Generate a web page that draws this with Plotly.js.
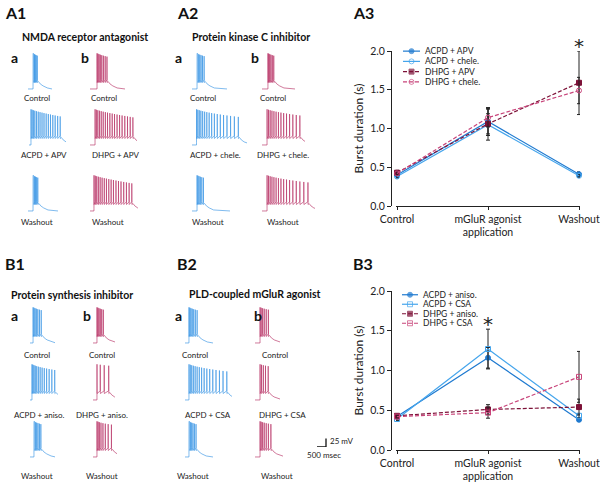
<!DOCTYPE html>
<html><head><meta charset="utf-8">
<script src="https://cdn.plot.ly/plotly-3.0.1.min.js"></script>
<style>html,body{margin:0;padding:0;background:#fff}#chart{width:600px;height:483px}</style>
</head><body><div id="chart"></div>
<script>
// ================= DATA =================
// Summary plots: burst duration (s), mean and error
const stages = ['Control', 'mGluR agonist<br>application', 'Washout'];
const stageIdx = [0, 1, 2];

const a3Names = ['ACPD + APV', 'ACPD + chele.', 'DHPG + APV', 'DHPG + chele.'];
const a3AcpdApv = [0.40, 1.09, 0.41];
const a3AcpdApvErr = [0.03, 0.18, 0.03];
const a3AcpdChele = [0.38, 1.05, 0.39];
const a3AcpdCheleErr = [0.02, 0.20, 0.02];
const a3DhpgApv = [0.43, 1.06, 1.59];
const a3DhpgApvErr = [0.03, 0.13, 0.41];
const a3DhpgChele = [0.42, 1.14, 1.49];
const a3DhpgCheleErr = [0.02, 0.12, 0.17];
const a3StarStage = 2;

const b3Names = ['ACPD + aniso.', 'ACPD + CSA', 'DHPG + aniso.', 'DHPG + CSA'];
const b3AcpdAniso = [0.42, 1.16, 0.38];
const b3AcpdAnisoErr = [0.03, 0.13, 0.02];
const b3AcpdCsa = [0.39, 1.27, 0.43];
const b3AcpdCsaErr = [0.02, 0.25, 0.03];
const b3DhpgAniso = [0.43, 0.51, 0.54];
const b3DhpgAnisoErr = [0.02, 0.06, 0.10];
const b3DhpgCsa = [0.42, 0.47, 0.92];
const b3DhpgCsaErr = [0.02, 0.07, 0.32];
const b3StarStage = 1;

const yTicks = [0, 0.5, 1.0, 1.5, 2.0];
const yTickText = ['0.0', '0.5', '1.0', '1.5', '2.0'];

// Example recordings: spike times (ms after burst onset) and onset (ms) per trace
const onsetA1a = [280, 110, 280];
const spkA1aCtl = [0, 35, 75, 120, 170, 230];
const spkA1aDrug = [0, 60, 130, 210, 300, 400, 500, 610, 720, 840, 960, 1080, 1210, 1340, 1480, 1620];
const spkA1aWash = [0, 40, 85, 135, 195, 260];
const onsetA1b = [390, 280, 220];
const spkA1bCtl = [0, 50, 110, 180, 260, 350, 450, 550];
const spkA1bDrug = [0, 70, 150, 240, 340, 450, 570, 690, 820, 950, 1080, 1220, 1360, 1500, 1650, 1800, 1950, 2100];
const spkA1bWash = [0, 70, 150, 240, 340, 450, 570, 690, 820, 950, 1080, 1220, 1360, 1500, 1650, 1800, 1950, 2100];

const onsetA2a = [280, 250, 280];
const spkA2aCtl = [0, 40, 90, 150, 220, 300, 390];
const spkA2aDrug = [0, 70, 150, 240, 340, 450, 570, 700, 840, 990, 1150, 1320, 1500, 1690, 1890, 2100, 2320];
const spkA2aWash = [0, 50, 110, 180, 260, 350];
const onsetA2b = [330, 280, 280];
const spkA2bCtl = [0, 45, 100, 165, 240, 320];
const spkA2bDrug = [0, 80, 170, 270, 380, 500, 630, 770, 920, 1080, 1250, 1430, 1620, 1820];
const spkA2bWash = [0, 80, 170, 270, 380, 500, 630, 770, 920, 1080, 1250, 1430, 1620, 1820, 2040, 2270];

const onsetB1a = [170, 110, 220];
const spkB1aCtl = [0, 50, 110, 180, 260, 350, 450];
const spkB1aDrug = [0, 50, 110, 180, 260, 350, 450, 560, 680, 810, 950, 1100, 1260];
const spkB1aWash = [0, 40, 90, 150, 220, 300, 380];
const onsetB1b = [220, 220, 220];
const spkB1bCtl = [0, 50, 110, 180, 260, 350];
const spkB1bDrug = [0, 180, 400, 650];
const spkB1bWash = [0, 60, 130, 220, 330, 460, 620, 800];

const onsetB2a = [220, 220, 220];
const spkB2aCtl = [0, 50, 110, 180, 260, 350, 450];
const spkB2aDrug = [0, 70, 150, 240, 340, 450, 570, 700, 840, 990, 1150, 1320, 1500, 1690, 1890, 2100];
const spkB2aWash = [0, 40, 90, 150, 220, 300, 390];
const onsetB2b = [280, 280, 280];
const spkB2bCtl = [0, 60, 140, 230, 340, 460];
const spkB2bDrug = [0, 80, 180, 300, 450];
const spkB2bWash = [0, 60, 140, 230, 340, 460, 600];

const labelsA1a = ['Control', 'ACPD + APV', 'Washout'];
const labelsA1b = ['Control', 'DHPG + APV', 'Washout'];
const labelsA2a = ['Control', 'ACPD + chele.', 'Washout'];
const labelsA2b = ['Control', 'DHPG + chele.', 'Washout'];
const labelsB1a = ['Control', 'ACPD + aniso.', 'Washout'];
const labelsB1b = ['Control', 'DHPG + aniso.', 'Washout'];
const labelsB2a = ['Control', 'ACPD + CSA', 'Washout'];
const labelsB2b = ['Control', 'DHPG + CSA', 'Washout'];

const scaleBarMs = 500;
const scaleBarMv = 25;

// ================= LAYOUT / STYLE =================
const W = 600, H = 483;
const px = x => x / W, py = y => 1 - y / H;
const FONT = 'Lato, "Open Sans", sans-serif';
const BLUE = '#3593e4', RED = '#b52c62';
const MS_PER_PX = 500 / 9, MV_PER_PX = 25 / 8.5;
const V_REST = -65, V_PLAT = -38, V_PEAK = 40, V_AHP = -46;

const data = [];
const layout = {
  width: W, height: H, margin: {l: 0, r: 0, t: 0, b: 0},
  paper_bgcolor: '#fff', plot_bgcolor: 'rgba(0,0,0,0)', showlegend: false,
  font: {family: FONT, color: '#222', size: 10},
  annotations: [], shapes: []
};
let axN = 0;
function newAxes(xd, yd, xopt, yopt) {
  axN++;
  const s = axN === 1 ? '' : String(axN);
  layout['xaxis' + s] = Object.assign({domain: xd, anchor: 'y' + s, fixedrange: true}, xopt);
  layout['yaxis' + s] = Object.assign({domain: yd, anchor: 'x' + s, fixedrange: true}, yopt);
  return {x: 'x' + s, y: 'y' + s};
}
const hidden = {visible: false, showgrid: false, zeroline: false};

// ---------- Summary charts ----------
function summaryChart(yTopPx, yBotPx, names, series, errs, markers, colors, dashes, legendRows, legendX, starStage) {
  const ax = newAxes([px(396), px(580)], [py(yBotPx), py(yTopPx)],
    {range: [-0.011, 2.011], showline: true, linecolor: '#222', linewidth: 1, ticks: 'outside', ticklen: 3,
     tickcolor: '#222', tickvals: stageIdx, ticktext: stages, showgrid: false, zeroline: false,
     tickfont: {size: 10.5, family: FONT, color: '#222'}},
    {range: [0, 2.0], anchor: 'free', position: px(391), showline: true, linecolor: '#222', linewidth: 1,
     ticks: 'outside', ticklen: 4, tickcolor: '#222', tickvals: yTicks, ticktext: yTickText, showgrid: false,
     zeroline: false, tickfont: {size: 10.5, family: FONT, color: '#222'},
     title: {text: 'Burst duration (s)', font: {size: 12, family: FONT, color: '#222'}, standoff: 3}});
  series.forEach((ys, i) => {
    data.push({
      x: stageIdx, y: ys, xaxis: ax.x, yaxis: ax.y, type: 'scatter', mode: 'lines+markers', cliponaxis: false,
      line: {color: colors[i], width: 1.2, dash: dashes[i]},
      marker: {symbol: markers[i], size: 5, color: colors[i], line: {color: colors[i], width: 1}},
      error_y: {type: 'data', array: errs[i], visible: true, color: '#222', thickness: 1, width: 2},
      name: names[i], hoverinfo: 'skip'
    });
  });
  // star over significant stage
  const sTop = Math.max(...series.map((s, i) => s[starStage] + errs[i][starStage]));
  layout.annotations.push({xref: ax.x, yref: ax.y, x: starStage, y: sTop, yshift: 5, text: '*', showarrow: false,
    yanchor: 'middle', font: {size: 20, family: 'DejaVu Sans', color: '#222'}});
  // legend (drawn on its own small axes: one row per series)
  const rows = names.map((n, i) => i);
  const lax = newAxes([px(legendX[0]), px(legendX[1])], [py(legendRows[1]), py(legendRows[0])],
    Object.assign({range: [0, 1]}, hidden), Object.assign({range: [names.length - 0.5, -0.5]}, hidden));
  rows.forEach(i => {
    data.push({x: [0, 0.5, 1], y: [i, i, i], xaxis: lax.x, yaxis: lax.y, type: 'scatter', mode: 'lines+markers',
      cliponaxis: false, line: {color: colors[i], width: 1.2, dash: dashes[i]},
      marker: {symbol: markers[i], size: [0, 5, 0], color: colors[i], line: {color: colors[i], width: 1}}, hoverinfo: 'skip'});
    layout.annotations.push({xref: lax.x, yref: lax.y, x: 1, y: i, xshift: 3, text: names[i], showarrow: false,
      xanchor: 'left', yanchor: 'middle', font: {size: 8.5, family: FONT, color: '#222'}});
  });
}
const C_ACPD1 = '#1f7ad0', C_ACPD2 = '#45a5ec', C_DHPG1 = '#7d1238', C_DHPG2 = '#c8447a';
summaryChart(51, 206, a3Names,
  [a3AcpdApv, a3AcpdChele, a3DhpgApv, a3DhpgChele],
  [a3AcpdApvErr, a3AcpdCheleErr, a3DhpgApvErr, a3DhpgCheleErr],
  ['circle', 'circle-open', 'square', 'circle-open'],
  [C_ACPD1, C_ACPD2, C_DHPG1, C_DHPG2], ['solid', 'solid', '4px,2px', '4px,2px'],
  [46, 87], [403, 420], a3StarStage);
summaryChart(291, 450, b3Names,
  [b3AcpdAniso, b3AcpdCsa, b3DhpgAniso, b3DhpgCsa],
  [b3AcpdAnisoErr, b3AcpdCsaErr, b3DhpgAnisoErr, b3DhpgCsaErr],
  ['circle', 'square-open', 'square', 'square-open'],
  [C_ACPD1, C_ACPD2, C_DHPG1, C_DHPG2], ['solid', 'solid', '4px,2px', '4px,2px'],
  [290, 328], [402, 418], b3StarStage);

// ---------- Example recordings ----------
function wave(onset, spikes, tEnd) {
  const x = [0, onset], y = [V_REST, V_REST];
  spikes.forEach((s, i) => {
    const t = onset + s;
    x.push(t, t + 3, t + 9);
    y.push(i === 0 ? V_REST + 8 : V_PLAT, V_PEAK - i * 1.4, V_AHP);
  });
  const tl = onset + spikes[spikes.length - 1] + 9;
  x.push(tl + 60, tl + 160, tl + 320, tl + 560, Math.max(tl + 800, tEnd));
  y.push(-43, -50, -56, -62, V_REST);
  return {x, y};
}
const columns = [
  {onset: onsetA1a, spk: [spkA1aCtl, spkA1aDrug, spkA1aWash], lab: labelsA1a, color: BLUE,
   box: [[28, 52], [29, 66], [28, 58]], bot: [90, 146, 212], ly: [98, 155, 222], lx: [37, 44, 37]},
  {onset: onsetA1b, spk: [spkA1bCtl, spkA1bDrug, spkA1bWash], lab: labelsA1b, color: RED,
   box: [[90, 125], [90, 137], [90, 138]], bot: [90, 146, 212], ly: [98, 155, 222], lx: [104, 115, 108]},
  {onset: onsetA2a, spk: [spkA2aCtl, spkA2aDrug, spkA2aWash], lab: labelsA2a, color: BLUE,
   box: [[192, 227], [192, 247], [192, 230]], bot: [90, 146, 212], ly: [98, 155, 222], lx: [203, 215, 208]},
  {onset: onsetA2b, spk: [spkA2bCtl, spkA2bDrug, spkA2bWash], lab: labelsA2b, color: RED,
   box: [[262, 295], [262, 305], [262, 315]], bot: [90, 146, 212], ly: [98, 155, 222], lx: [273, 283, 283]},
  {onset: onsetB1a, spk: [spkB1aCtl, spkB1aDrug, spkB1aWash], lab: labelsB1a, color: BLUE,
   box: [[30, 55], [30, 58], [30, 55]], bot: [344, 401, 458], ly: [355, 415, 476], lx: [37, 39, 37]},
  {onset: onsetB1b, spk: [spkB1bCtl, spkB1bDrug, spkB1bWash], lab: labelsB1b, color: RED,
   box: [[93, 115], [93, 115], [93, 117]], bot: [344, 401, 458], ly: [355, 415, 476], lx: [102, 102, 102]},
  {onset: onsetB2a, spk: [spkB2aCtl, spkB2aDrug, spkB2aWash], lab: labelsB2a, color: BLUE,
   box: [[185, 213], [185, 232], [185, 213]], bot: [344, 401, 458], ly: [355, 415, 476], lx: [195, 208, 193]},
  {onset: onsetB2b, spk: [spkB2bCtl, spkB2bDrug, spkB2bWash], lab: labelsB2b, color: RED,
   box: [[255, 280], [255, 280], [255, 283]], bot: [344, 401, 458], ly: [355, 415, 476], lx: [275, 282, 277]}
];
const TRACE_H = 42;
columns.forEach(col => {
  for (let r = 0; r < 3; r++) {
    const [x0, x1] = col.box[r];
    const yb = col.bot[r];
    const tEnd = (x1 - x0) * MS_PER_PX;
    const ax = newAxes([px(x0), px(x1)], [py(yb), py(yb - TRACE_H)],
      Object.assign({range: [0, tEnd]}, hidden),
      Object.assign({range: [V_REST - 3, V_REST - 3 + TRACE_H * MV_PER_PX]}, hidden));
    const w = wave(col.onset[r], col.spk[r], tEnd);
    data.push({x: w.x, y: w.y, xaxis: ax.x, yaxis: ax.y, type: 'scatter', mode: 'lines',
      line: {color: col.color, width: 0.7}, opacity: 0.9, hoverinfo: 'skip'});
    layout.annotations.push({xref: 'paper', yref: 'paper', x: px(col.lx[r]), y: py(col.ly[r]), text: col.lab[r],
      showarrow: false, xanchor: 'center', yanchor: 'middle', font: {size: 8, family: FONT, color: '#222'}});
  }
});

// scale bar
const sb = newAxes([px(317), px(327)], [py(447), py(437)],
  Object.assign({range: [0, 10 * MS_PER_PX]}, hidden), Object.assign({range: [0, 10 * MV_PER_PX]}, hidden));
data.push({x: [0, scaleBarMs, scaleBarMs], y: [0, 0, scaleBarMv], xaxis: sb.x, yaxis: sb.y, type: 'scatter',
  mode: 'lines', line: {color: '#111', width: 1.3}, hoverinfo: 'skip', cliponaxis: false});
layout.annotations.push({xref: 'paper', yref: 'paper', x: px(328), y: py(441), text: scaleBarMv + ' mV',
  showarrow: false, xanchor: 'left', yanchor: 'middle', font: {size: 8, family: FONT, color: '#222'}});
layout.annotations.push({xref: 'paper', yref: 'paper', x: px(324), y: py(455), text: scaleBarMs + ' msec',
  showarrow: false, xanchor: 'center', yanchor: 'middle', font: {size: 8, family: FONT, color: '#222'}});

// ---------- Panel labels & headings ----------
function txt(x, y, t, size, bold, anchor) {
  layout.annotations.push({xref: 'paper', yref: 'paper', x: px(x), y: py(y), text: bold ? '<b>' + t + '</b>' : t,
    showarrow: false, xanchor: anchor || 'left', yanchor: 'middle', font: {size: size, family: FONT, color: '#111'}});
}
txt(3, 13, 'A1', 16, true); txt(175, 13, 'A2', 16, true); txt(351, 13, 'A3', 16, true);
txt(3, 263, 'B1', 16, true); txt(175, 263, 'B2', 16, true); txt(351, 263, 'B3', 16, true);
txt(85, 37, 'NMDA receptor antagonist', 10.5, true, 'center');
txt(251, 37, 'Protein kinase C inhibitor', 10.5, true, 'center');
txt(72, 295, 'Protein synthesis inhibitor', 10.5, true, 'center');
txt(255, 294, 'PLD-coupled mGluR agonist', 10.5, true, 'center');
txt(9, 57, 'a', 14, true); txt(79, 57, 'b', 14, true);
txt(173, 57, 'a', 14, true); txt(249, 57, 'b', 14, true);
txt(9, 315, 'a', 14, true); txt(81, 315, 'b', 14, true);
txt(173, 315, 'a', 14, true); txt(252, 315, 'b', 14, true);

Plotly.newPlot('chart', data, layout, {staticPlot: true, displayModeBar: false});
</script></body></html>
